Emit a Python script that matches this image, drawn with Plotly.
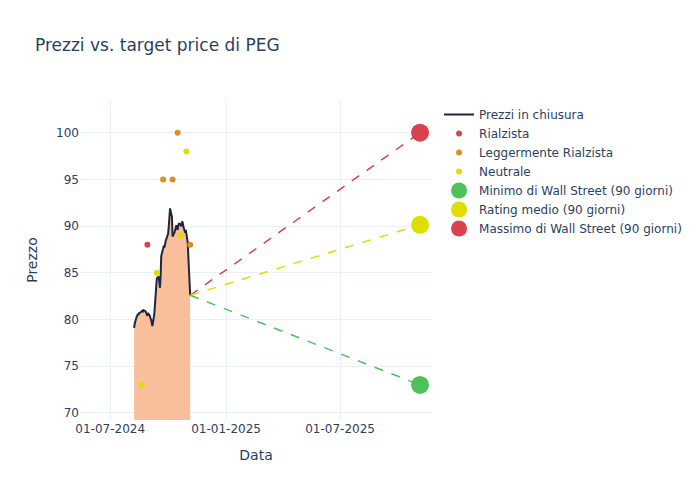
import pandas as pd
import plotly.graph_objects as go

# Closing prices (business days from 2024-08-08 to 2024-11-05)
price_dates = pd.bdate_range("2024-08-08", "2024-11-05")
price_values = [
    79.1, 79.6, 80.3, 80.4, 80.6, 80.5, 80.7, 80.8, 80.9, 81.0,
    80.8, 81.0, 80.9, 80.7, 80.6, 80.4, 80.7, 80.4, 80.1, 80.0,
    79.6, 79.3, 80.6, 81.8, 83.2, 84.2, 84.4, 84.6, 84.0, 83.4,
    84.6, 86.8, 87.6, 87.9, 87.7, 88.2, 88.4, 89.0, 89.2, 90.0,
    90.8, 91.9, 91.0, 88.9, 89.0, 89.2, 89.3, 90.1, 89.9, 89.6,
    90.0, 90.3, 90.1, 90.0, 90.5, 90.4, 90.0, 89.3, 89.6, 89.0,
    88.5, 88.3, 84.0, 82.6,
]

# Analyst ratings
bull_dates = ["2024-08-29"]
bull_values = [88]
slight_bull_dates = ["2024-09-23", "2024-10-08", "2024-10-16", "2024-11-05"]
slight_bull_values = [95, 95, 100, 88]
neutral_dates = ["2024-08-20", "2024-09-13", "2024-10-21", "2024-10-30"]
neutral_values = [73, 85, 89, 98]

# Wall Street targets (90 days)
target_date = "2025-11-05"
target_min = 73.0
target_avg = 90.14
target_max = 100.0

RED = "#D9434F"
ORANGE = "#DE8E27"
YELLOW = "#DEDE00"
GREEN = "#4CC35A"
NAVY = "#1F2640"
FILL = "#F9BE9A"

last_date = price_dates[-1]
last_price = price_values[-1]

fig = go.Figure()

fig.add_trace(go.Scatter(x=price_dates, y=price_values, mode="lines",
                         line=dict(width=0), fill="tozeroy", fillcolor=FILL,
                         showlegend=False, hoverinfo="skip"))
fig.add_trace(go.Scatter(x=price_dates, y=price_values, mode="lines",
                         line=dict(color=NAVY, width=2), name="Prezzi in chiusura"))

fig.add_trace(go.Scatter(x=bull_dates, y=bull_values, mode="markers",
                         marker=dict(color=RED, size=6), name="Rialzista"))
fig.add_trace(go.Scatter(x=slight_bull_dates, y=slight_bull_values, mode="markers",
                         marker=dict(color=ORANGE, size=6), name="Leggermente Rialzista"))
fig.add_trace(go.Scatter(x=neutral_dates, y=neutral_values, mode="markers",
                         marker=dict(color=YELLOW, size=6), name="Neutrale"))

for val, col in [(target_max, RED), (target_avg, YELLOW), (target_min, GREEN)]:
    fig.add_trace(go.Scatter(x=[last_date, target_date], y=[last_price, val], mode="lines",
                             line=dict(color=col, width=1.5, dash="dash"),
                             showlegend=False, hoverinfo="skip"))

fig.add_trace(go.Scatter(x=[target_date], y=[target_min], mode="markers",
                         marker=dict(color=GREEN, size=18), name="Minimo di Wall Street (90 giorni)"))
fig.add_trace(go.Scatter(x=[target_date], y=[target_avg], mode="markers",
                         marker=dict(color=YELLOW, size=18), name="Rating medio (90 giorni)"))
fig.add_trace(go.Scatter(x=[target_date], y=[target_max], mode="markers",
                         marker=dict(color=RED, size=18), name="Massimo di Wall Street (90 giorni)"))

fig.update_layout(
    template="plotly_white",
    width=692, height=492,
    margin=dict(l=72, r=268, t=92, b=80),
    font=dict(family="DejaVu Sans, Verdana, sans-serif"),
    title=dict(text="Prezzi vs. target price di PEG", x=27 / 692, xanchor="left",
               y=1 - 37 / 492, yanchor="middle"),
    xaxis=dict(title=dict(text="Data"), range=["2024-05-14", "2025-11-24"],
               tickformat="%d-%m-%Y", dtick="M6", tick0="2024-07-01"),
    yaxis=dict(title=dict(text="Prezzo"), range=[69.25, 103.5], dtick=5),
)

fig.write_html("out.html")
